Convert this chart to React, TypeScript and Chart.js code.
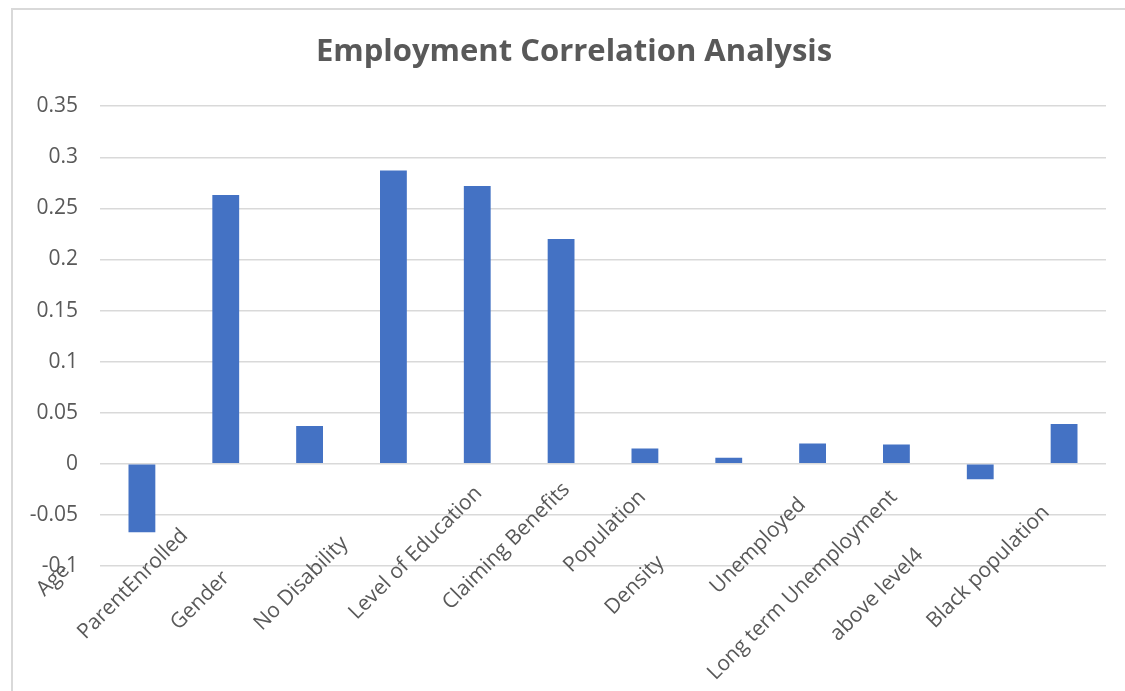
import React, { useEffect, useRef } from "react";
import { Chart, registerables } from "chart.js";

Chart.register(...registerables);

// ---------- data ----------
const categories = [
  "Age",
  "ParentEnrolled",
  "Gender",
  "No Disability",
  "Level of Education",
  "Claiming Benefits",
  "Population",
  "Density",
  "Unemployed",
  "Long term Unemployment",
  "above level4",
  "Black population",
];
const correlations = [-0.067, 0.263, 0.037, 0.287, 0.272, 0.22, 0.015, 0.006, 0.02, 0.019, -0.015, 0.039];
const yTickValues = [-0.1, -0.05, 0, 0.05, 0.1, 0.15, 0.2, 0.25, 0.3, 0.35];
const chartTitle = "Employment Correlation Analysis";

// ---------- layout helpers (not data) ----------
// trailing non-breaking spaces that slide each rotated label down along its own diagonal
const labelSlide = [21, 12, 23, 14, 1, 0, 2, 19, 4, 2, 17, 6];
const titleShift = 2; // leading non-breaking spaces nudging the centred title right

const FONT = "'Open Sans', sans-serif";
const GREY = "#595959";

export default function App() {
  const ref = useRef<HTMLCanvasElement | null>(null);

  useEffect(() => {
    if (!ref.current) return;
    const chart = new Chart(ref.current, {
      type: "bar",
      data: {
        labels: categories,
        datasets: [
          {
            label: "Correlation",
            data: correlations,
            backgroundColor: "#4472C4",
            borderWidth: 0,
            categoryPercentage: 0.32,
            barPercentage: 1,
          },
        ],
      },
      options: {
        responsive: false,
        animation: false,
        layout: {
          autoPadding: false,
          padding: { left: 26, right: 19, top: 0, bottom: 0 },
        },
        plugins: {
          legend: { display: false },
          tooltip: { enabled: false },
          title: {
            display: true,
            text: "\u00A0".repeat(titleShift) + chartTitle,
            color: GREY,
            font: { family: FONT, size: 31, weight: "bold", lineHeight: 1.2 },
            padding: { top: 33.4, bottom: 35.6 },
          },
        },
        scales: {
          x: {
            grid: { display: false, drawTicks: false },
            border: { display: false },
            ticks: {
              autoSkip: false,
              minRotation: 45,
              maxRotation: 45,
              mirror: true,
              padding: 71,
              labelOffset: 23,
              color: GREY,
              font: { family: FONT, size: 21, lineHeight: 1.2 },
              callback: (_v: any, i: number) => categories[i] + "\u00A0".repeat(labelSlide[i] || 0),
            },
            afterFit: (s: any) => {
              s.height = 125;
              s.paddingLeft = 0;
              s.paddingRight = 0;
            },
          },
          y: {
            min: -0.1,
            max: 0.35,
            grid: { color: "#d9d9d9", lineWidth: 1.5, drawTicks: false },
            border: { display: false },
            ticks: {
              padding: 22,
              color: GREY,
              font: { family: FONT, size: 21, lineHeight: 1.2 },
              callback: (v: any) => Number(Number(v).toFixed(2)).toString(),
            },
            afterBuildTicks: (s: any) => {
              s.ticks = yTickValues.map((v) => ({ value: v }));
            },
            afterFit: (s: any) => {
              s.width = 74;
              s.paddingTop = 0;
              s.paddingBottom = 0;
            },
          },
        },
      },
    });
    return () => chart.destroy();
  }, []);

  return (
    <div style={{ position: "fixed", left: 0, top: 0, width: 1125, height: 691, overflow: "hidden", background: "#fff" }}>
      <div
        style={{
          position: "absolute",
          left: 11,
          top: 8,
          width: 1200,
          height: 800,
          borderLeft: "2px solid #d9d9d9",
          borderTop: "2px solid #d9d9d9",
        }}
      />
      <canvas ref={ref} width={1125} height={691} style={{ position: "absolute", left: 0, top: 0 }} />
    </div>
  );
}
